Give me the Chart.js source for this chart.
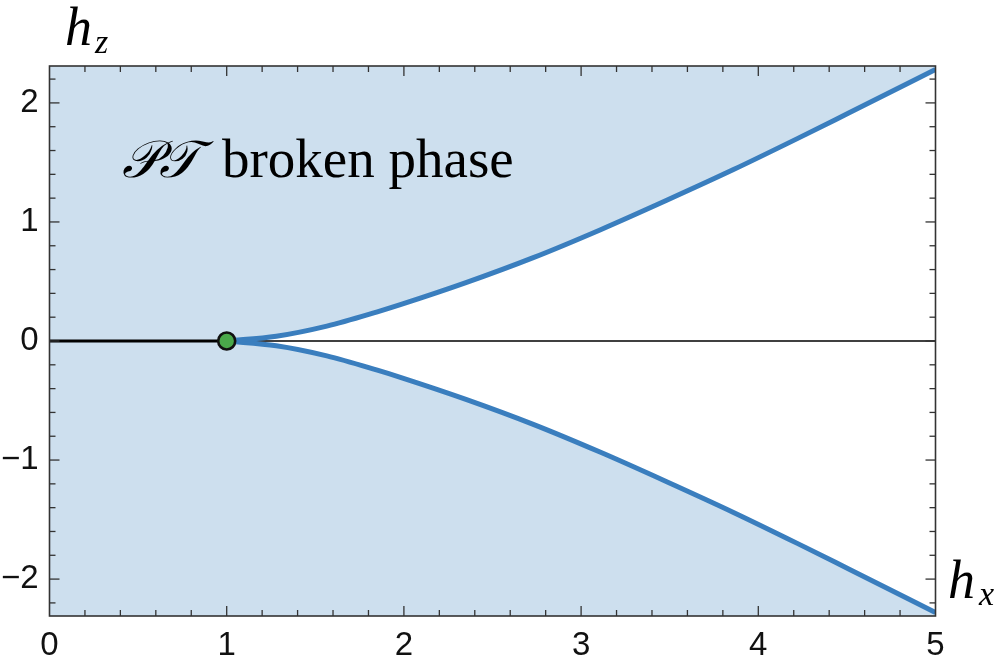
<!DOCTYPE html>
<html>
<head>
<meta charset="utf-8">
<script src="https://cdn.jsdelivr.net/npm/chart.js@4"></script>
<style>
  html, body { margin: 0; padding: 0; background: #ffffff; }
  #wrap { width: 1000px; height: 662px; position: relative; }
</style>
</head>
<body>
<div id="wrap"><canvas id="c"></canvas></div>
<script>
// ---- data ----
const hxValues      = [1, 1.28, 1.565, 1.85, 1.98, 2.35, 2.73, 3.11, 3.48, 3.86, 4.22, 4.51, 5];
const hzUpperValues = [0, 0.04, 0.125, 0.245, 0.305, 0.49, 0.70, 0.935, 1.18, 1.44, 1.70, 1.915, 2.28];
const hzLowerValues = [0, -0.04, -0.125, -0.245, -0.305, -0.49, -0.70, -0.935, -1.18, -1.44, -1.70, -1.915, -2.28];
const pairedLineX   = [0, 1];
const pairedLineY   = [0, 0];
const axisLineX     = [0, 5];
const axisLineY     = [0, 0];
const criticalX     = [1];
const criticalY     = [0];
const xTickValues   = [0, 1, 2, 3, 4, 5];
const yTickValues   = [-2, -1, 0, 1, 2];
const xRange        = [0, 5];
const yRange        = [-2.31, 2.31];
const xLabel        = ['h', 'x'];
const yLabel        = ['h', 'z'];
const phaseLabel    = ['\u{1D4AB}\u{1D4AF}', 'broken phase'];

const toPts = (xs, ys) => xs.map((x, i) => ({ x: x, y: ys[i] }));

const BLUE = '#3a7ebe';
const FILL = '#cddfee';

const bgPlugin = {
  id: 'bg',
  beforeDraw(chart) {
    const { ctx, chartArea: a } = chart;
    ctx.save();
    ctx.fillStyle = FILL;
    ctx.fillRect(a.left, a.top, a.right - a.left, a.bottom - a.top);
    ctx.restore();
  }
};

const framePlugin = {
  id: 'frame',
  afterDraw(chart) {
    const { ctx, chartArea: a } = chart;
    const xs = chart.scales.x, ys = chart.scales.y;
    ctx.save();
    ctx.strokeStyle = '#333333';
    ctx.lineWidth = 1.3;
    const tick = (x1, y1, x2, y2) => { ctx.beginPath(); ctx.moveTo(x1, y1); ctx.lineTo(x2, y2); ctx.stroke(); };
    for (let k = 0; k <= 25; k++) {
      const v = k * 0.2;
      const px = xs.getPixelForValue(v);
      const L = (k % 5 === 0) ? 10 : 6;
      if (px <= a.left + 0.5 || px >= a.right - 0.5) continue;
      tick(px, a.bottom, px, a.bottom - L);
      tick(px, a.top, px, a.top + L);
    }
    for (let k = -11; k <= 11; k++) {
      const v = k * 0.2;
      const py = ys.getPixelForValue(v);
      const L = (k % 5 === 0) ? 10 : 6;
      if (py <= a.top + 0.5 || py >= a.bottom - 0.5) continue;
      tick(a.left, py, a.left + L, py);
      tick(a.right, py, a.right - L, py);
    }
    ctx.lineWidth = 1.6;
    ctx.strokeRect(a.left, a.top, a.right - a.left, a.bottom - a.top);

    ctx.fillStyle = '#000000';
    ctx.textBaseline = 'alphabetic';
    ctx.textAlign = 'left';
    ctx.font = 'italic 54px "Liberation Serif"';
    ctx.fillText(yLabel[0], 65, 45);
    ctx.font = 'italic 34px "Liberation Serif"';
    ctx.fillText(yLabel[1], 95, 53);
    ctx.font = 'italic 54px "Liberation Serif"';
    ctx.fillText(xLabel[0], 948, 598);
    ctx.font = 'italic 34px "Liberation Serif"';
    ctx.fillText(xLabel[1], 979, 605);

    ctx.font = 'italic 52px "Liberation Serif", "DejaVu Serif", "DejaVu Sans", serif';
    ctx.fillText(phaseLabel[0], 122, 177);
    ctx.font = '55px "Liberation Serif"';
    ctx.fillText(phaseLabel[1], 222, 177);
    ctx.restore();
  }
};

new Chart(document.getElementById('c'), {
  type: 'line',
  data: {
    datasets: [
      { label: 'critical', data: toPts(criticalX, criticalY), showLine: false,
        pointRadius: 8.5, pointBackgroundColor: '#4aa84a', pointBorderColor: '#111111', pointBorderWidth: 2.6 },
      { label: 'paired', data: toPts(pairedLineX, pairedLineY), borderColor: '#000000', borderWidth: 3.2,
        pointRadius: 0, fill: false },
      { label: 'upper', data: toPts(hxValues, hzUpperValues), borderColor: BLUE, borderWidth: 5,
        pointRadius: 0, cubicInterpolationMode: 'monotone', fill: '+1', backgroundColor: '#ffffff' },
      { label: 'lower', data: toPts(hxValues, hzLowerValues), borderColor: BLUE, borderWidth: 5,
        pointRadius: 0, cubicInterpolationMode: 'monotone', fill: false },
      { label: 'axis', data: toPts(axisLineX, axisLineY), borderColor: '#000000', borderWidth: 1.3,
        pointRadius: 0, fill: false }
    ]
  },
  options: {
    responsive: true,
    maintainAspectRatio: false,
    animation: false,
    devicePixelRatio: 1,
    layout: { padding: { top: 66, right: 64.5, left: 0, bottom: 0 } },
    plugins: {
      legend: { display: false },
      tooltip: { enabled: false },
      filler: { drawTime: 'beforeDatasetsDraw' }
    },
    scales: {
      x: {
        type: 'linear', min: xRange[0], max: xRange[1],
        grid: { display: false, drawTicks: false },
        border: { display: false },
        afterFit(s) { s.height = 46; },
        afterBuildTicks(s) { s.ticks = xTickValues.map(v => ({ value: v })); },
        ticks: { font: { family: 'Liberation Sans', size: 33 }, color: '#111111', padding: 10, maxRotation: 0,
                 callback: v => String(v) }
      },
      y: {
        type: 'linear', min: yRange[0], max: yRange[1],
        grid: { display: false, drawTicks: false },
        border: { display: false },
        afterFit(s) { s.width = 49.5; },
        afterBuildTicks(s) { s.ticks = yTickValues.map(v => ({ value: v })); },
        ticks: { font: { family: 'Liberation Sans', size: 33 }, color: '#111111', padding: 11,
                 callback: v => (v < 0 ? '\u2212' + Math.abs(v) : String(v)) }
      }
    }
  },
  plugins: [bgPlugin, framePlugin]
});
</script>
</body>
</html>
